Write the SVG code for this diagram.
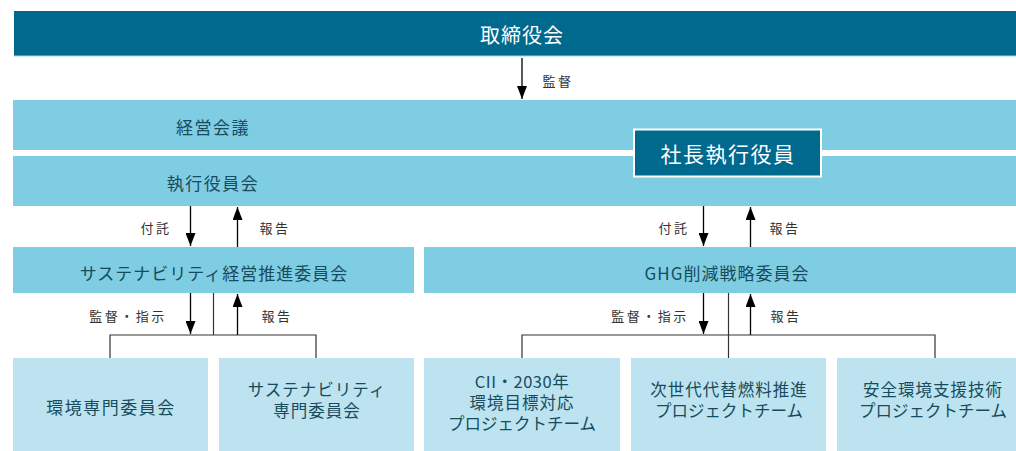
<svg xmlns="http://www.w3.org/2000/svg" width="1016" height="451" viewBox="0 0 1016 451">
<defs>
<marker id="ah" markerWidth="14" markerHeight="10" refX="13" refY="5" orient="auto" markerUnits="userSpaceOnUse" viewBox="0 0 14 10">
<path d="M0,0 L13,5 L0,10 Z" fill="#000"/>
</marker>
<style>
text{font-family:"Noto Sans CJK JP","Noto Sans",sans-serif;text-anchor:middle;dominant-baseline:central}
.dark{fill:#00698e}
.mid{fill:#7fcde3}
.light{fill:#bce3ef}
.wt{fill:#fff;font-size:20px;letter-spacing:1px}
.bt{fill:#174b5e;font-size:17px;letter-spacing:1.5px}
.bt2{fill:#174b5e;font-size:16.5px;letter-spacing:1px}
.lb{fill:#333;font-size:13px;letter-spacing:2.5px}
.arr{stroke:#000;stroke-width:1.3;fill:none;marker-end:url(#ah)}
.ln{stroke:#333;stroke-width:1.2;fill:none}
</style>
</defs>
<g id="board">
<rect class="dark" x="14" y="11" width="1002" height="45"/>
<rect fill="#9fd3e4" x="14" y="55.5" width="1002" height="1"/>
<text class="wt" x="522" y="34">取締役会</text>
</g>
<g id="mgmt-meeting">
<rect class="mid" x="13" y="100" width="1003" height="50"/>
<text class="bt" x="213" y="126">経営会議</text>
</g>
<g id="exec-board">
<rect class="mid" x="13" y="156" width="1003" height="50"/>
<text class="bt" x="213" y="182">執行役員会</text>
</g>
<g id="president">
<rect class="dark" x="634" y="129.5" width="187" height="47" stroke="#fff" stroke-width="2"/>
<text class="wt" x="728" y="153" style="font-size:21px;letter-spacing:1.5px">社長執行役員</text>
</g>
<g id="sus-committee">
<rect class="mid" x="13" y="247" width="401" height="46"/>
<text class="bt" x="214" y="272" style="letter-spacing:1px">サステナビリティ経営推進委員会</text>
</g>
<g id="ghg-committee">
<rect class="mid" x="424" y="247" width="592" height="46"/>
<text class="bt" x="727" y="272" style="letter-spacing:1px">GHG削減戦略委員会</text>
</g>
<g id="env-committee">
<rect class="light" x="13" y="358" width="195" height="93"/>
<text class="bt" x="111" y="406">環境専門委員会</text>
</g>
<g id="sus-expert">
<rect class="light" x="219" y="358" width="195" height="93"/>
<text class="bt2" x="317" y="389">サステナビリティ</text>
<text class="bt2" x="317" y="410">専門委員会</text>
</g>
<g id="cii-pt">
<rect class="light" x="424" y="358" width="196" height="93"/>
<text class="bt2" x="522" y="381" style="letter-spacing:0.5px">CII・2030年</text>
<text class="bt2" x="522" y="402">環境目標対応</text>
<text class="bt2" x="522" y="423" style="letter-spacing:0px">プロジェクトチーム</text>
</g>
<g id="fuel-pt">
<rect class="light" x="631" y="358" width="195" height="93"/>
<text class="bt2" x="729" y="389">次世代代替燃料推進</text>
<text class="bt2" x="729" y="410" style="letter-spacing:0px">プロジェクトチーム</text>
</g>
<g id="safety-pt">
<rect class="light" x="837" y="358" width="179" height="93"/>
<text class="bt2" x="933" y="389">安全環境支援技術</text>
<text class="bt2" x="933" y="410" style="letter-spacing:0px">プロジェクトチーム</text>
</g>
<g id="connectors">
<line class="arr" x1="522" y1="58" x2="522" y2="99"/>
<text class="lb" x="558" y="80">監督</text>
<line class="arr" x1="190.5" y1="206" x2="190.5" y2="246"/>
<line class="arr" x1="237.5" y1="247" x2="237.5" y2="207"/>
<text class="lb" x="156" y="227">付託</text>
<text class="lb" x="275" y="227">報告</text>
<line class="arr" x1="703.5" y1="206" x2="703.5" y2="246"/>
<line class="arr" x1="750.5" y1="247" x2="750.5" y2="207"/>
<text class="lb" x="674" y="227">付託</text>
<text class="lb" x="785" y="227">報告</text>
<line class="arr" x1="190.5" y1="293" x2="190.5" y2="334"/>
<line class="arr" x1="237.5" y1="335" x2="237.5" y2="294"/>
<polyline class="ln" points="110,358 110,335 316,335 316,358"/>
<line class="ln" x1="213.5" y1="293" x2="213.5" y2="335"/>
<text class="lb" x="128" y="315">監督・指示</text>
<text class="lb" x="277" y="315">報告</text>
<line class="arr" x1="703.5" y1="293" x2="703.5" y2="334"/>
<line class="arr" x1="750.5" y1="335" x2="750.5" y2="294"/>
<polyline class="ln" points="522,358 522,335 935,335 935,358"/>
<line class="ln" x1="728.5" y1="293" x2="728.5" y2="358"/>
<text class="lb" x="650" y="315">監督・指示</text>
<text class="lb" x="786" y="315">報告</text>
</g>
</svg>
